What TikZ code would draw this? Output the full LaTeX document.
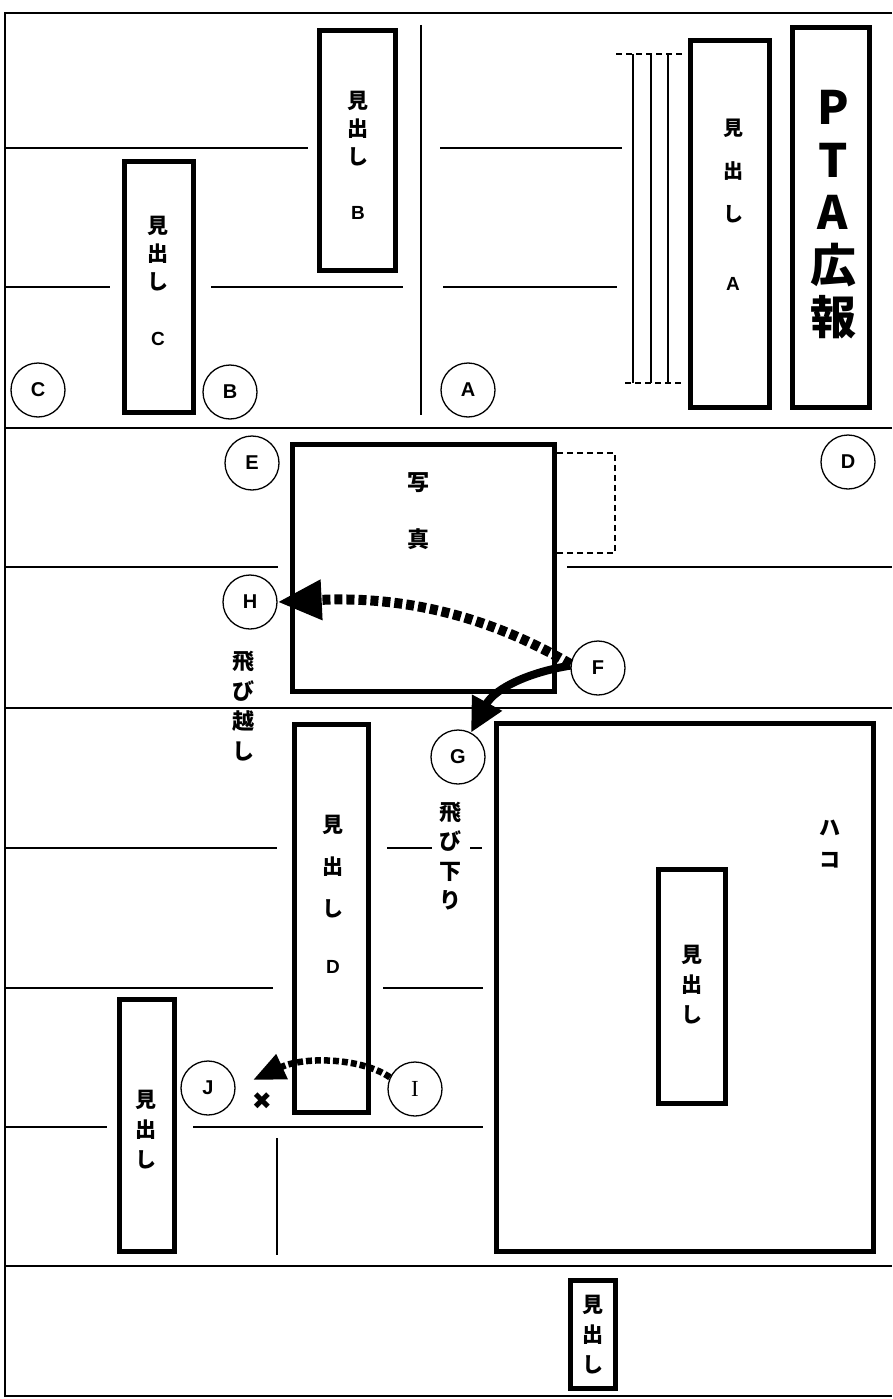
\documentclass[tikz,border=0pt]{standalone}
\usepackage{fontspec}
\setmainfont{Liberation Sans}
\newfontfamily\jp{Noto Sans CJK JP}
\newfontfamily\serifI{Liberation Serif}
\newfontfamily\djv{DejaVu Sans}
\usetikzlibrary{arrows.meta}
\tikzset{
  frameline/.style={line width=2.6pt},
  sectline/.style={line width=2.2pt},
  thinline/.style={line width=1.1pt},
  heavybox/.style={draw, rectangle, line width=5pt, inner sep=0pt},
  circ/.style={draw, circle, line width=1.3pt, minimum size=54pt, inner sep=0pt, font=\fontsize{20}{20}\selectfont\bfseries},
  vlabel/.style={align=center, inner sep=0pt, font=\jp\bfseries\fontsize{21}{28}\selectfont},
}
\newcommand\latinletter[1]{{\rmfamily\bfseries\fontsize{19}{19}\selectfont #1}}
\begin{document}
\begin{tikzpicture}[x=1pt,y=-1pt]
\useasboundingbox (0,0) rectangle (892,1399);
\fill[white] (0,0) rectangle (892,1399);
% frame
\draw[frameline] (892,13) -- (5,13) -- (5,1396) -- (892,1396);
\draw[sectline] (5,428) -- (892,428);
\draw[sectline] (5,708) -- (892,708);
\draw[sectline] (5,1266) -- (892,1266);
% top thin lines
\draw[thinline] (5,148) -- (308,148);
\draw[thinline] (440,148) -- (622,148);
\draw[thinline] (5,287) -- (110,287);
\draw[thinline] (211,287) -- (403,287);
\draw[thinline] (443,287) -- (617,287);
\draw[thinline] (421,25) -- (421,415);
% column rules near A
\draw[thinline] (633,54) -- (633,383);
\draw[thinline] (651,54) -- (651,383);
\draw[thinline] (668,54) -- (668,383);
\draw[thinline, dash pattern=on 6pt off 4pt] (616,54) -- (684,54);
\draw[thinline, dash pattern=on 6pt off 4pt] (625,383) -- (684,383);
% middle thin lines
\draw[thinline] (5,567) -- (278,567);
\draw[thinline] (567,567) -- (892,567);
% bottom thin lines
\draw[thinline] (5,848) -- (277,848);
\draw[thinline] (387,848) -- (432,848);
\draw[thinline] (470,848) -- (482,848);
\draw[thinline] (5,988) -- (273,988);
\draw[thinline] (383,988) -- (483,988);
\draw[thinline] (5,1127) -- (107,1127);
\draw[thinline] (193,1127) -- (483,1127);
\draw[thinline] (277,1138) -- (277,1255);

% boxes
\node[heavybox, minimum width=76pt, minimum height=240pt] (boxB) at (357.5,150.5) {};
\node[heavybox, minimum width=69pt, minimum height=251pt] (boxC) at (159,287) {};
\node[heavybox, minimum width=79pt, minimum height=367pt] (boxA) at (730,224) {};
\node[heavybox, minimum width=77pt, minimum height=380pt] (boxPTA) at (831,217.5) {};
\node[heavybox, minimum width=262pt, minimum height=247pt] (photo) at (423.5,568) {};
\node[heavybox, minimum width=74pt, minimum height=388pt] (boxD) at (331.5,918.5) {};
\node[heavybox, minimum width=377pt, minimum height=528pt] (hako) at (685,987.5) {};
\node[heavybox, minimum width=67pt, minimum height=234pt] (boxIn) at (692,986.5) {};
\node[heavybox, minimum width=55pt, minimum height=252pt] (boxL) at (147,1125.5) {};
\node[heavybox, minimum width=45pt, minimum height=108pt] (boxBot) at (593,1334.5) {};
% dashed extension of photo
\draw[thinline, dash pattern=on 6pt off 4pt] (557,453) -- (615,453) -- (615,553) -- (557,553);

% box texts
\node[vlabel] (tB) at (358,155) {見\\出\\し\\[27pt]\latinletter{B}};
\node[vlabel] (tC) at (158,281) {見\\出\\し\\[28pt]\latinletter{C}};
\node[vlabel, font=\jp\bfseries\fontsize{20}{43}\selectfont] (tA) at (733,205) {見\\出\\し\\[26pt]\latinletter{A}};
\node[vlabel, font=\jp\bfseries\fontsize{21}{42}\selectfont] (tD) at (333,894) {見\\出\\し\\[15pt]\latinletter{D}};
\node[vlabel, font=\jp\bfseries\fontsize{46}{52.5}\selectfont] (tPTA) at (833,215) {P\\T\\A\\広\\報};
\node[vlabel, font=\jp\bfseries\fontsize{22}{57}\selectfont] (tPhoto) at (418,511) {写\\真};
\node[vlabel, font=\jp\bfseries\fontsize{21}{32}\selectfont] (tHako) at (830,844) {ハ\\コ};
\node[vlabel, font=\jp\bfseries\fontsize{21}{30}\selectfont] (tIn) at (692,985) {見\\出\\し};
\node[vlabel, font=\jp\bfseries\fontsize{21}{30}\selectfont] (tL) at (146,1130) {見\\出\\し};
\node[vlabel, font=\jp\bfseries\fontsize{21}{30}\selectfont] (tBot) at (593,1335) {見\\出\\し};
\node[vlabel, font=\jp\bfseries\fontsize{22}{30}\selectfont] (tJump) at (243,706) {飛\\び\\越\\し};
\node[vlabel, font=\jp\bfseries\fontsize{22}{29.5}\selectfont] (tDown) at (450,856) {飛\\び\\下\\り};

% circles
\node[circ] (cC) at (38,390) {C};
\node[circ] (cB) at (230,392) {B};
\node[circ] (cA) at (468,390) {A};
\node[circ] (cD) at (848,462) {D};
\node[circ] (cE) at (252,463) {E};
\node[circ] (H) at (250,602) {H};
\node[circ] (F) at (598,668) {F};
\node[circ] (G) at (458,757) {G};
\node[circ] (J) at (208,1088) {J};
\node[circ, font=\serifI\fontsize{23}{23}\selectfont] (I) at (415,1089) {I};

% arrows
\draw[line width=10pt, dash pattern=on 8pt off 4pt, -{Triangle[length=44pt,width=38pt]}]
  (F.172) .. controls (470,605) and (380,597) .. (H.east);
\draw[line width=8pt, -{Triangle[length=34pt,width=32pt]}]
  (F.175) .. controls (530,672) and (495,688) .. (G.62);
\coordinate (Jtip) at (253,1080);
\draw[line width=6.5pt, dash pattern=on 6pt off 3pt, -{Triangle[length=32pt,width=26pt]}]
  (I.155) .. controls (362,1058) and (305,1056) .. (Jtip);
\node[font=\djv\fontsize{24}{24}\selectfont, inner sep=0pt] (cross) at (262,1101) {✖};
\end{tikzpicture}
\end{document}
